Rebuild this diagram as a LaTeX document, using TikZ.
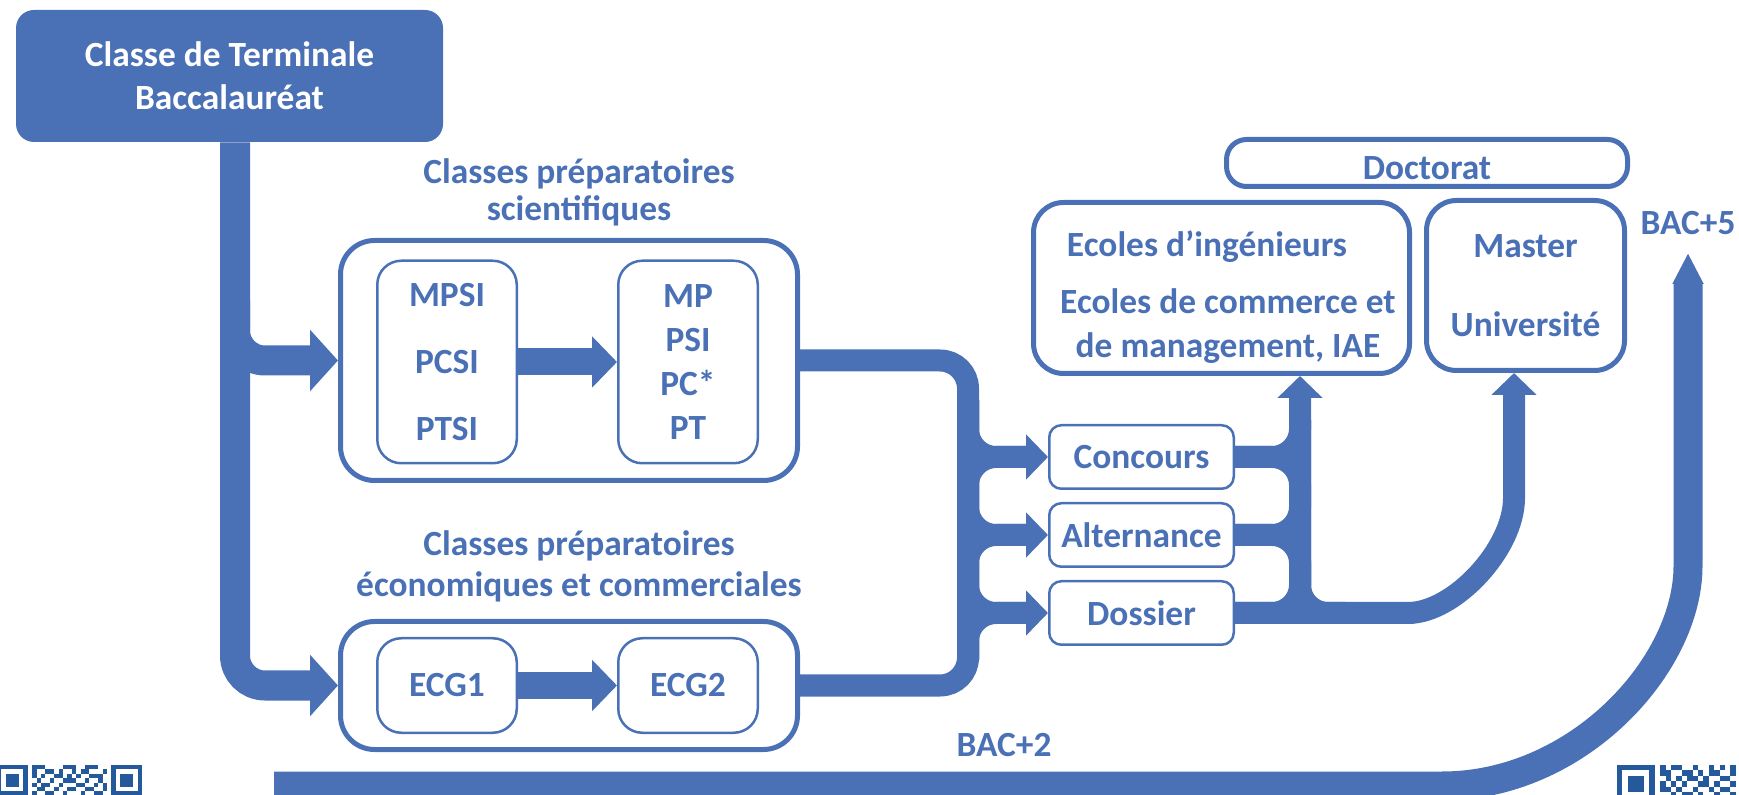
\documentclass[tikz,border=0pt]{standalone}
\usepackage{fontspec}
\setmainfont{Carlito}
\usetikzlibrary{arrows.meta}
\definecolor{bleu}{RGB}{74,112,181}
\definecolor{qrbleu}{RGB}{36,89,156}
\begin{document}
\begin{tikzpicture}[x=0.5pt,y=-0.5pt,
  font=\bfseries\fontsize{17.7}{19}\selectfont,text=bleu,
  grandbox/.style={draw=bleu,line width=2.5pt,rounded corners=17pt},
  petitbox/.style={draw=bleu,line width=1.25pt,rounded corners=12pt,
    minimum width=69.75pt,align=center},
  choixbox/.style={draw=bleu,line width=1.25pt,rounded corners=6pt,
    minimum width=92.25pt,minimum height=31.75pt},
  tronc/.style={bleu,line width=15pt,rounded corners=15pt},
  bande/.style={bleu,line width=11pt,rounded corners=14pt},
  grosse/.tip={Triangle[length=14pt,width=30pt]},
  moyenne/.tip={Triangle[length=12.5pt,width=25pt]},
  petite/.tip={Triangle[length=11pt,width=22pt]}]
\useasboundingbox (0,0) rectangle (1739,795);
\clip (0,0) rectangle (1739,795);

% boites
\node[fill=bleu,text=white,rounded corners=9pt,minimum width=213.5pt,
  minimum height=66pt,align=center,font=\bfseries\fontsize{17.7}{21.5}\selectfont]
  (bac) at (229.5,76) {Classe de Terminale\\Baccalauréat};
\node[grandbox,minimum width=228.5pt,minimum height=120pt] (sci) at (569,360.5) {};
\node[grandbox,minimum width=228.5pt,minimum height=64pt] (eco) at (569,685.5) {};
\node[petitbox,minimum height=101.25pt,font=\bfseries\fontsize{17.7}{33.5}\selectfont]
  (mpsi) at (447,362) {MPSI\\PCSI\\PTSI};
\node[petitbox,minimum height=101.25pt,font=\bfseries\fontsize{17.7}{22}\selectfont]
  (mp) at (688,362) {MP\\PSI\\PC*\\PT};
\node[petitbox,minimum height=47.25pt] (ecg1) at (447,685.5) {ECG1};
\node[petitbox,minimum height=47.25pt] (ecg2) at (688,685.5) {ECG2};
\node[align=center,font=\bfseries\fontsize{17.7}{18.5}\selectfont] (scilab)
  at (579,192.5) {Classes préparatoires\\scientifiques};
\node[align=center,font=\bfseries\fontsize{17.7}{20.5}\selectfont] (ecolab)
  at (579,566) {Classes préparatoires\\économiques et commerciales};
\node[choixbox] (conc) at (1141.5,457) {Concours};
\node[choixbox] (alt) at (1141.5,535) {Alternance};
\node[choixbox] (dos) at (1141.5,613) {Dossier};
\node[grandbox,rounded corners=15pt,minimum width=188pt,minimum height=85.5pt]
  (ecoles) at (1221.5,288) {};
\node (ing) at (1207,247) {Ecoles d’ingénieurs};
\node[align=center,font=\bfseries\fontsize{17.7}{22}\selectfont] (com)
  at (1228,326) {Ecoles de commerce et\\de management, IAE};
\node[grandbox,rounded corners=15pt,minimum width=99pt,minimum height=85pt,
  align=center,font=\bfseries\fontsize{17.7}{39.5}\selectfont] (master)
  at (1525.5,285.5) {Master\\Université};
\node[grandbox,rounded corners=10pt,minimum width=200.5pt,minimum height=23.5pt,
  text height=16.5pt,text depth=0pt] (doct) at (1427,163) {Doctorat};
\node (bacdeux) at (1004,745) {BAC+2};
\node (bacinq) at (1688,223) {BAC+5};

% fleches
\draw[tronc,-grosse] ([xshift=2.75pt]bac.south) |- (eco.west);
\draw[tronc,-grosse] (235,300) |- (sci.west);
\draw[bleu,line width=13.5pt,-moyenne] (mpsi) -- (mp);
\draw[bleu,line width=13.5pt,-moyenne] (ecg1) -- (ecg2);
\draw[bande] (sci.east) -| (968,520) |- (eco.east);
\foreach \c in {conc,alt,dos}{
  \draw[bande,-petite] (968,400) |- (\c.west);
  \draw[bande] (968,660) |- ([xshift=-11pt]\c.west);
}
\coordinate (ecin) at ([xshift=39.25pt]ecoles.south);
\draw[bande,-petite] (dos.east) -| (ecin);
\foreach \c in {conc,alt}{
  \draw[bande] (\c.east) -| (1300,420);
  \draw[bande] (\c.east) -| (1300,600);
}
\draw[bande] (1300,560) |- (1345,613);
\draw[bande,-petite] (dos.east) -- (1380,613) .. controls (1454,613) and (1514,549)
  .. (1514,470) -- ([xshift=-5.75pt]master.south);
\coordinate (deb) at (274,786);
\coordinate (fin) at (1688,253);
\draw[bleu,line width=14.5pt,-{Triangle[length=15.5pt,width=14.5pt]}] (deb)
  -- (1442,786) .. controls (1578,786) and (1688,665) .. (1688,566) -- (fin);

% codes QR
\foreach \x/\m in {-3/4.4,111.4/4.4,1617/5.4}{
  \fill[qrbleu] (\x,765) rectangle +(7*\m,7*\m);
  \fill[white] ({\x+\m},{765+\m}) rectangle +(5*\m,5*\m);
  \fill[qrbleu] ({\x+2*\m},{765+2*\m}) rectangle +(3*\m,3*\m);
}
\foreach \c/\r in {8/0,9/0,10/0,15/0,16/0,17/0,20/0,21/0,22/0,
  8/1,11/1,12/1,14/1,17/1,19/1,20/1,24/1,
  8/2,10/2,13/2,14/2,16/2,18/2,21/2,22/2,23/2,
  9/3,12/3,15/3,16/3,17/3,20/3,23/3,
  8/4,10/4,11/4,14/4,18/4,19/4,22/4,24/4,
  9/5,10/5,13/5,16/5,17/5,20/5,21/5,24/5,
  8/6,11/6,12/6,15/6,19/6,22/6,23/6}
  \fill[qrbleu] ({-3+4.4*\c},{765+4.4*\r}) rectangle +(4.4,4.4);
\foreach \c/\r in {8/0,10/0,11/0,14/0,17/0,19/0,21/0,
  8/1,9/1,12/1,13/1,15/1,17/1,18/1,21/1,
  9/2,11/2,13/2,14/2,16/2,19/2,20/2,
  8/3,10/3,12/3,15/3,16/3,18/3,21/3,
  8/4,9/4,11/4,14/4,17/4,19/4,20/4,
  10/5,12/5,13/5,15/5,18/5,21/5}
  \fill[qrbleu] ({1617+5.4*\c},{765+5.4*\r}) rectangle +(5.4,5.4);
\end{tikzpicture}
\end{document}
